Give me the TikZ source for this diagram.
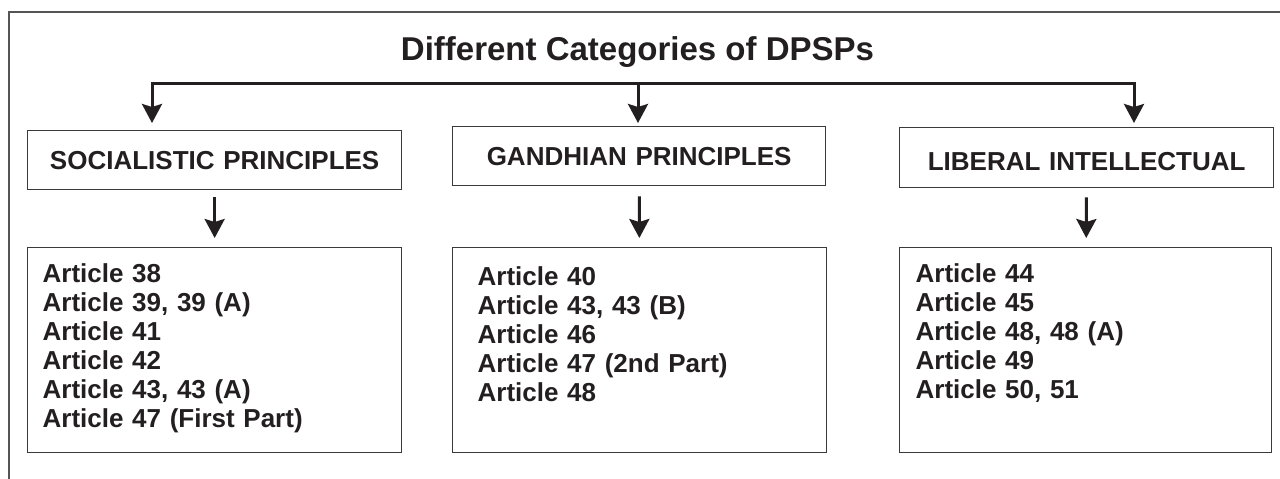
\documentclass[tikz,border=0pt]{standalone}
\usepackage{fontspec}
\setmainfont{Liberation Sans}
\usetikzlibrary{arrows.meta}
\definecolor{ink}{HTML}{231F20}
\definecolor{rim}{HTML}{3A3A3A}
\definecolor{frame}{HTML}{555555}
\begin{document}
\begin{tikzpicture}[x=1pt,y=-1pt,
  every node/.style={text=ink, font=\bfseries\fontsize{26}{28.9}\selectfont},
  head/.style={draw=rim, line width=1.3pt, inner sep=0pt, anchor=north west, align=center, text depth=20pt},
  list/.style={draw=rim, line width=1.3pt, inner ysep=0pt, anchor=north west, align=left},
  link/.style={line width=3pt, draw=ink, -{Stealth[length=19pt,width=20pt,inset=3pt]}}]
\useasboundingbox (0,0) rectangle (1280,479);
\draw[line width=2pt, draw=frame] (1280,12) -- (9,12) -- (9,479);

\node[font=\bfseries\fontsize{33}{36}\selectfont, anchor=base] (title) at (637.5,60) {Different Categories of DPSPs};

\node[head, text width=374pt, text height=39pt] (h1) at (27,130) {SOCIALISTIC PRINCIPLES};
\node[head, text width=373pt, text height=39pt] (h2) at (452,126) {GANDHIAN PRINCIPLES};
\node[head, text width=374pt, text height=43pt, text depth=17pt] (h3) at (899,127) {LIBERAL INTELLECTUAL};

\node[list, inner xsep=15pt, text width=344pt, text height=35pt, text depth=170pt] (l1) at (27,247)
  {Article 38\\Article 39, 39 (A)\\Article 41\\Article 42\\Article 43, 43 (A)\\Article 47 (First Part)};
\node[list, inner xsep=25pt, text width=324pt, text height=38pt, text depth=167pt] (l2) at (452,247)
  {Article 40\\Article 43, 43 (B)\\Article 46\\Article 47 (2nd Part)\\Article 48};
\node[list, inner xsep=16pt, text width=340pt, text height=35pt, text depth=170pt] (l3) at (899,247)
  {Article 44\\Article 45\\Article 48, 48 (A)\\Article 49\\Article 50, 51};

\coordinate (hub) at (638,83);
\coordinate (bl) at (152,83);
\coordinate (br) at (1134,83);
\draw[link, shorten >=7pt] (hub) -- (bl) -- (bl |- h1.north);
\draw[link, shorten >=3pt] (hub) -- (hub |- h2.north);
\draw[link, shorten >=4pt] (hub) -- (br) -- (br |- h3.north);

\draw[link, shorten <=7pt, shorten >=9pt] (h1) -- (l1);
\draw[link, shorten <=10pt, shorten >=9pt] (h2) -- (l2);
\draw[link, shorten <=9pt, shorten >=9pt] (h3) -- (l3);
\end{tikzpicture}
\end{document}
